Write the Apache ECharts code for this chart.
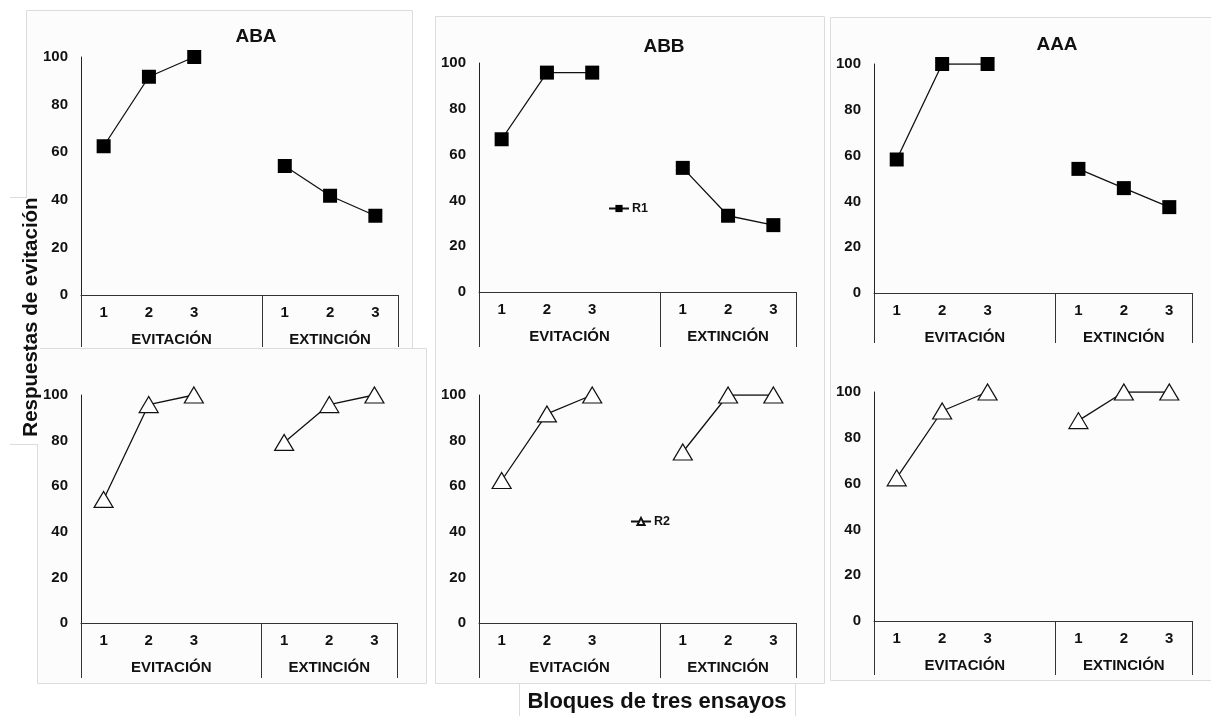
<!DOCTYPE html>
<html><head><meta charset="utf-8">
<script src="https://cdn.jsdelivr.net/npm/echarts@6/dist/echarts.min.js"></script>
<style>html,body{margin:0;padding:0;background:#fff}#c{width:1211px;height:716px}</style>
</head><body><div id="c"></div>
<script>
// ---- data ----
const categories = ['1', '2', '3', '', '1', '2', '3'];
const groupLabels = ['EVITACIÓN', 'EXTINCIÓN'];
const panelTitles = ['ABA', 'ABB', 'AAA'];
const seriesNames = ['R1', 'R2'];
const abaR1 = [62.5, 91.7, 100, null, 54.2, 41.7, 33.3];
const abbR1 = [66.7, 95.8, 95.8, null, 54.2, 33.3, 29.2];
const aaaR1 = [58.3, 100, 100, null, 54.2, 45.8, 37.5];
const abaR2 = [54.2, 95.8, 100, null, 79.2, 95.8, 100];
const abbR2 = [62.5, 91.7, 100, null, 75, 100, 100];
const aaaR2 = [62.5, 91.7, 100, null, 87.5, 100, 100];
const yMin = 0, yMax = 100, yStep = 20;

// ---- layout ----
const FONT = '"Liberation Sans", Arial, sans-serif';
const panels = [
  { r: 0, data: abaR1, grid: { left: 81, top: 57, width: 317, height: 238 }, sep: 52 },
  { r: 0, data: abbR1, grid: { left: 479, top: 63, width: 317, height: 229 }, sep: 55 },
  { r: 0, data: aaaR1, grid: { left: 874, top: 64, width: 318, height: 229 }, sep: 50 },
  { r: 1, data: abaR2, grid: { left: 81, top: 395, width: 316, height: 228 }, sep: 55 },
  { r: 1, data: abbR2, grid: { left: 479, top: 395, width: 317, height: 228 }, sep: 55 },
  { r: 1, data: aaaR2, grid: { left: 874, top: 392, width: 318, height: 229 }, sep: 54 }
];

const grids = [], xAxes = [], yAxes = [], series = [];
const lblStyle = { fontFamily: FONT, fontWeight: 'bold', color: '#111' };
panels.forEach((p, i) => {
  grids.push(Object.assign({ containLabel: false }, p.grid));
  xAxes.push({
    type: 'category', gridIndex: i, data: categories, boundaryGap: true, position: 'bottom',
    axisLine: { show: true, onZero: false, lineStyle: { color: '#333', width: 1 } },
    axisTick: { show: false }, splitLine: { show: false },
    axisLabel: Object.assign({ interval: 0, margin: 10, fontSize: 15 }, lblStyle)
  });
  xAxes.push({
    type: 'value', gridIndex: i, min: 0, max: categories.length, position: 'bottom', offset: 0,
    axisLine: { show: false }, splitLine: { show: false },
    axisTick: { show: true, customValues: [0, 4, 7], length: p.sep, inside: false, lineStyle: { color: '#333', width: 1 } },
    axisLabel: Object.assign({
      customValues: [2, 5.5], margin: 37, fontSize: 15,
      formatter: v => (v < 4 ? groupLabels[0] : groupLabels[1])
    }, lblStyle)
  });
  yAxes.push({
    type: 'value', gridIndex: i, min: yMin, max: yMax, interval: yStep,
    axisLine: { show: true, lineStyle: { color: '#222', width: 1 } },
    axisTick: { show: false }, splitLine: { show: false },
    axisLabel: Object.assign({ margin: 13, fontSize: 15 }, lblStyle)
  });
  const isR1 = p.r === 0;
  series.push({
    type: 'line', name: seriesNames[p.r], xAxisIndex: 2 * i, yAxisIndex: i,
    data: p.data, connectNulls: false, animation: false,
    symbol: isR1 ? 'rect' : 'triangle', symbolSize: isR1 ? 14 : [19, 16],
    itemStyle: isR1 ? { color: '#000', borderColor: '#000', borderWidth: 0 }
                    : { color: '#fff', borderColor: '#111', borderWidth: 1.2 },
    lineStyle: { color: '#111', width: 1.3 },
    emphasis: { disabled: true }
  });
});

const boxStroke = '#dcdcdc';
const rect = (x, y, w, h, fill, z) => ({
  type: 'rect', z: z, silent: true,
  shape: { x: x + 0.5, y: y + 0.5, width: w, height: h },
  style: { fill: fill, stroke: boxStroke, lineWidth: 1 }
});
const seg = (x1, y1, x2, y2) => ({
  type: 'line', z: -4, silent: true,
  shape: { x1: x1, y1: y1 + 0.5, x2: x2, y2: y2 + 0.5 },
  style: { stroke: boxStroke, lineWidth: 1 }
});
const txt = (s, x, y, size, rot) => ({
  type: 'text', x: x, y: y, rotation: rot || 0, z: 10, silent: true,
  style: { text: s, fontFamily: FONT, fontWeight: 'bold', fontSize: size, fill: '#111', textAlign: 'center', textVerticalAlign: 'middle' }
});

const graphic = [
  rect(26, 10, 386, 338, '#fcfcfc', -10),
  rect(37, 348, 389, 335, '#fcfcfc', -10),
  rect(435, 16, 389, 667, '#fcfcfc', -10),
  rect(830, 17, 400, 663, '#fcfcfc', -10),
  { type: 'rect', z: -5, silent: true, shape: { x: 8, y: 198, width: 32, height: 246 }, style: { fill: '#fff' } },
  seg(10, 197, 27, 197),
  seg(10, 444, 38, 444),
  rect(519, 683, 276, 40, '#fff', -5),
  txt(panelTitles[0], 256, 37, 19),
  txt(panelTitles[1], 664, 47, 19),
  txt(panelTitles[2], 1057, 45, 19),
  txt('Respuestas de evitación', 31, 317, 20.5, Math.PI / 2),
  txt('Bloques de tres ensayos', 657, 702, 22)
];

const legendBase = {
  orient: 'horizontal', itemWidth: 20, itemHeight: 9, itemGap: 0, selectedMode: false, padding: 0,
  textStyle: { fontFamily: FONT, fontWeight: 'bold', fontSize: 12.5, color: '#111', padding: [0, 0, 0, -2] }
};
const legend = [
  Object.assign({ data: [seriesNames[0]], left: 608, top: 202 }, legendBase),
  Object.assign({ data: [seriesNames[1]], left: 630, top: 515 }, legendBase)
];

const chart = echarts.init(document.getElementById('c'), null, { renderer: 'canvas' });
chart.setOption({
  backgroundColor: '#fff', animation: false,
  grid: grids, xAxis: xAxes, yAxis: yAxes, series: series,
  legend: legend, graphic: graphic, tooltip: { show: false }
});
</script></body></html>
